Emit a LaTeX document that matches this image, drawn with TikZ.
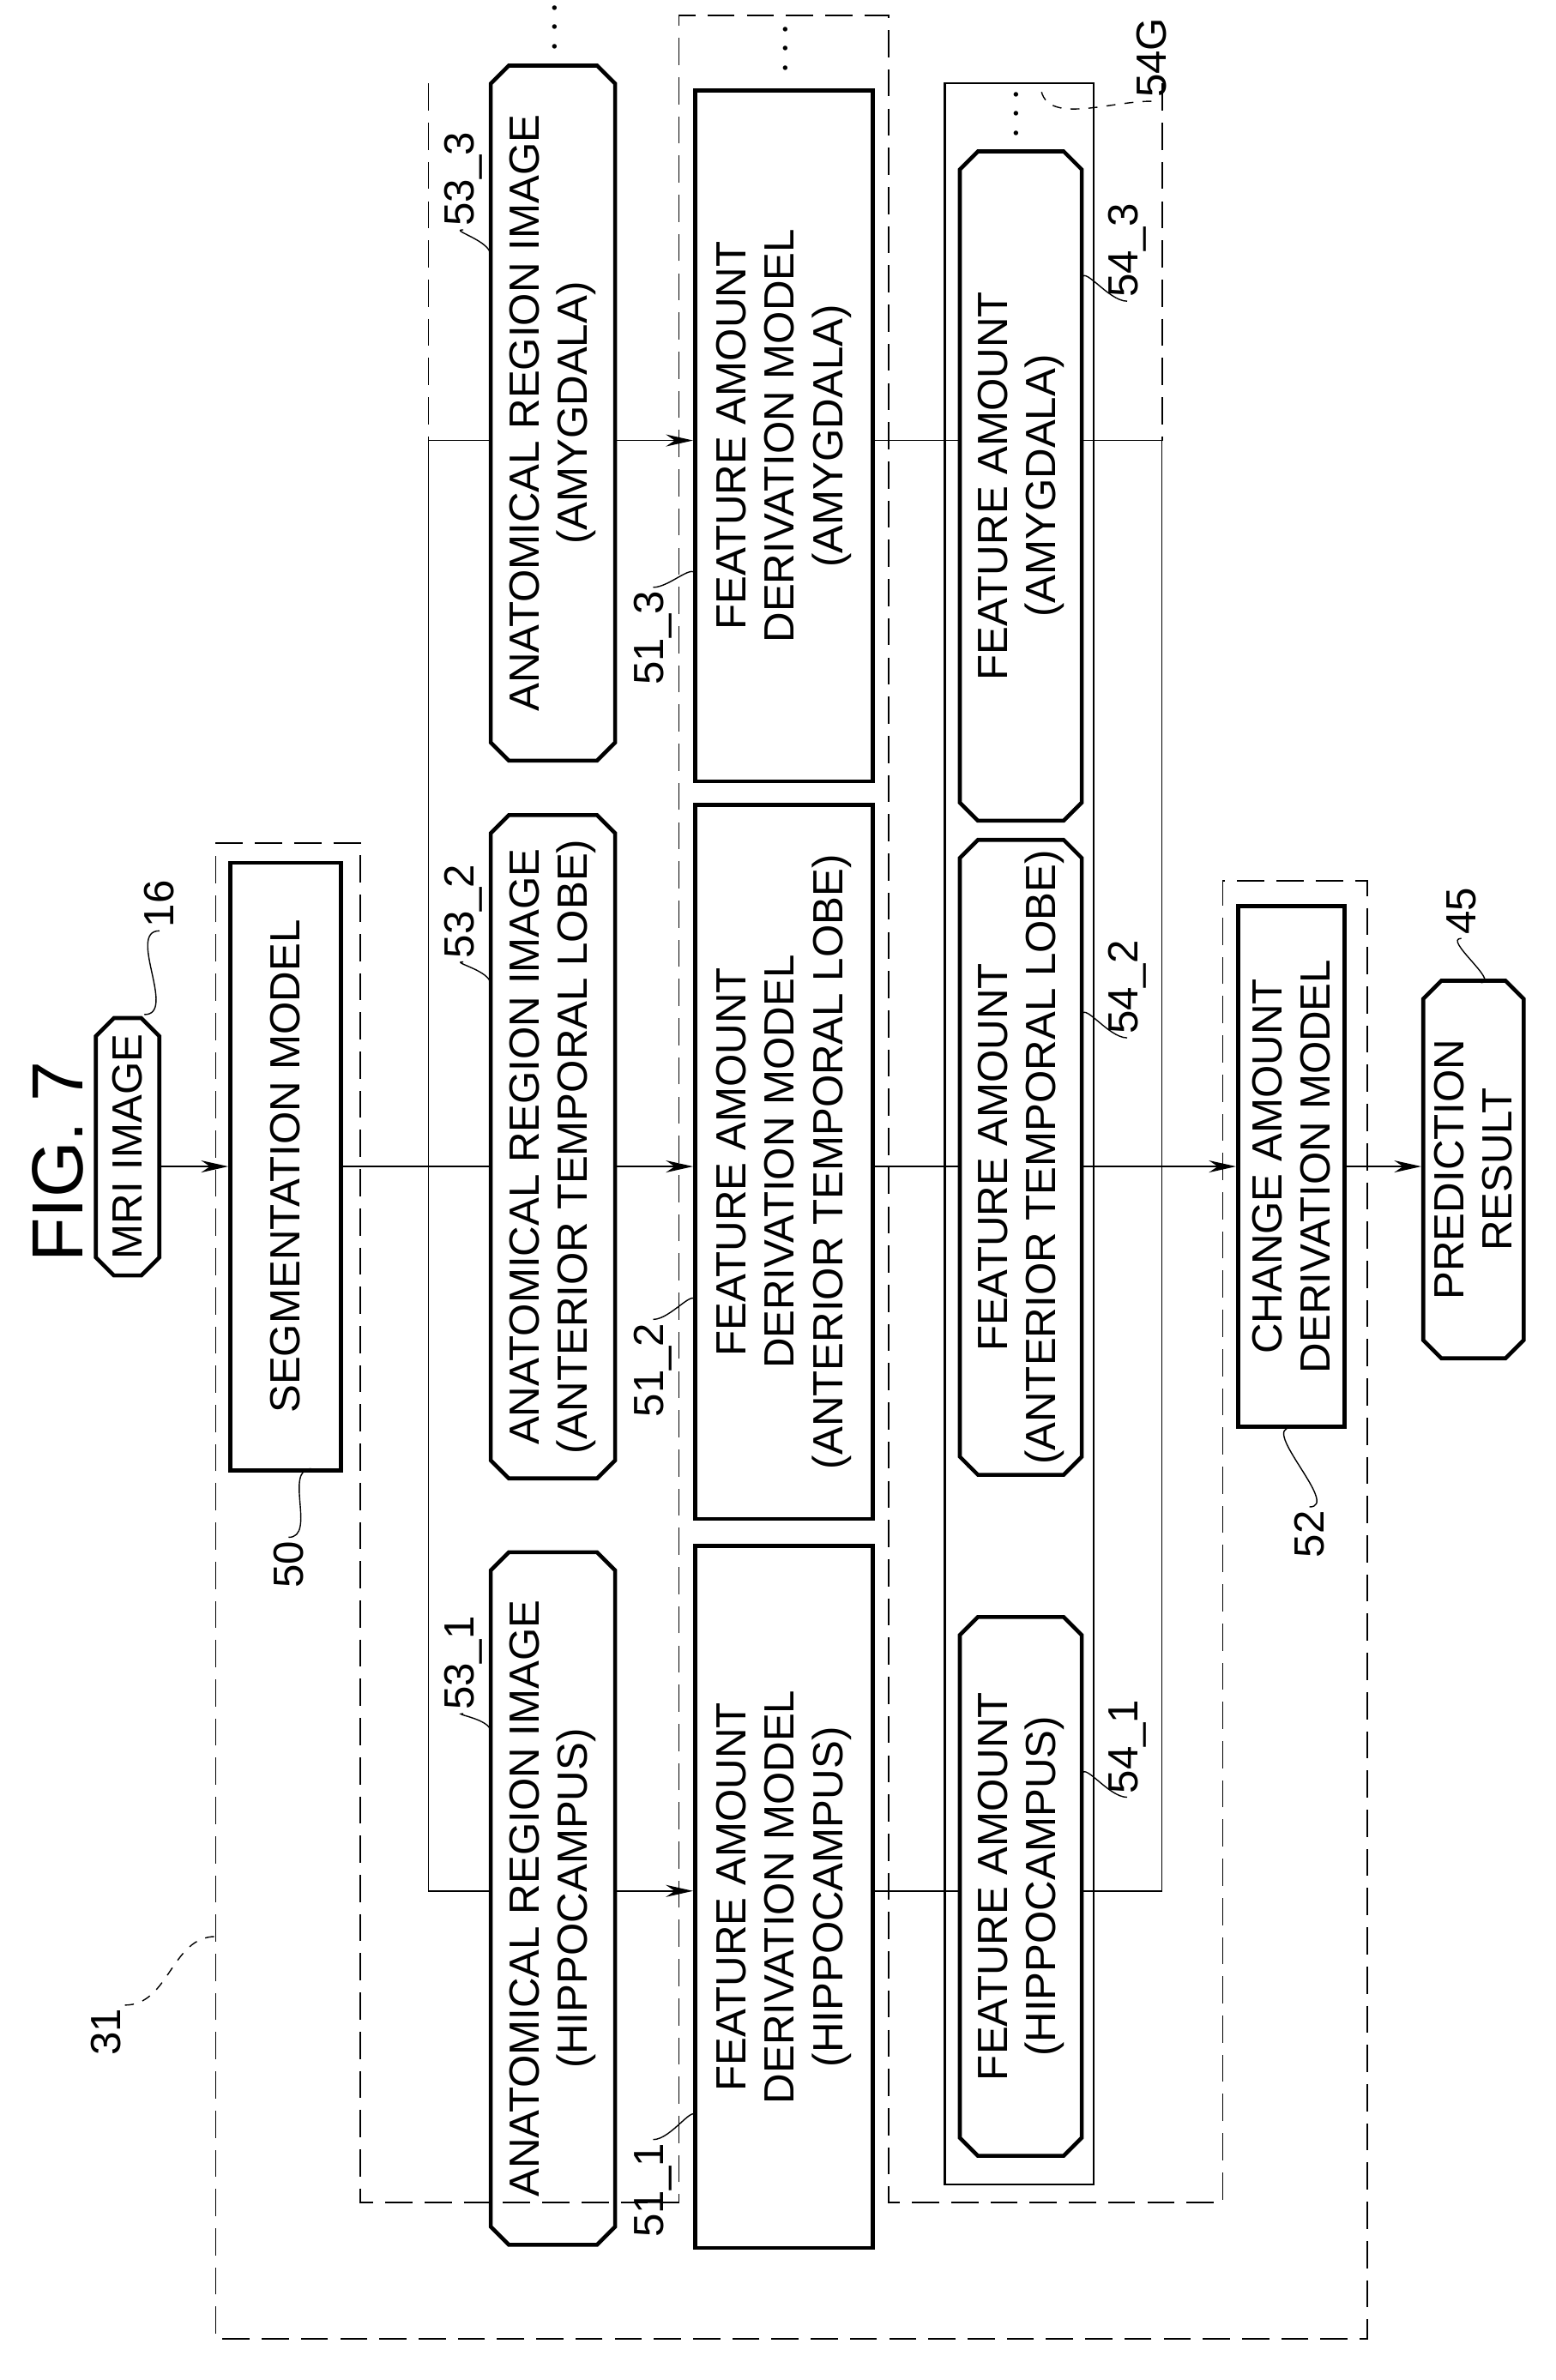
\documentclass[tikz,border=0pt]{standalone}
\usepackage{fontspec}
\setmainfont{Liberation Sans}
\usetikzlibrary{shapes.misc,arrows.meta}
\begin{document}
\begin{tikzpicture}[x=0.0177cm,y=-0.0177cm]
\tikzstyle{Box} = [draw, rotate=90, line width=1.3pt, align=center, inner sep=0, font=\fontsize{14}{16}\selectfont]
\tikzstyle{Cham} = [Box, chamfered rectangle, chamfered rectangle xsep=3pt, chamfered rectangle ysep=3pt, chamfered rectangle angle=45]
\tikzstyle{Lbl} = [rotate=90, font=\fontsize{14}{16}\selectfont, inner sep=1pt]
\tikzstyle{Frame} = [dashed, dash pattern=on 9pt off 4pt, line width=0.5pt]
\tikzstyle{Arr} = [-{Stealth[length=9pt,width=4pt]}]
\useasboundingbox (0,0) rectangle (1024,1567);
\node [rotate=90, font=\fontsize{24}{28}\selectfont] (fig) at (38,765) {FIG. 7};
\node [Cham, minimum width=3.0cm, minimum height=0.74cm] (mri) at (84,755) {MRI IMAGE};
\node [Box, minimum width=7.08cm, minimum height=1.29cm] (seg) at (188,768) {SEGMENTATION MODEL};
% anatomical region images
\node [Cham, minimum width=8.1cm, minimum height=1.45cm] (a3) at (364,272) {ANATOMICAL REGION IMAGE\\(AMYGDALA)};
\node [Cham, minimum width=7.73cm, minimum height=1.45cm] (a2) at (364,755) {ANATOMICAL REGION IMAGE\\(ANTERIOR TEMPORAL LOBE)};
\node [Cham, minimum width=8.07cm, minimum height=1.45cm] (a1) at (364,1250) {ANATOMICAL REGION IMAGE\\(HIPPOCAMPUS)};
% feature amount derivation models
\node [Box, minimum width=8.05cm, minimum height=2.07cm] (f3) at (516,287) {FEATURE AMOUNT\\DERIVATION MODEL\\(AMYGDALA)};
\node [Box, minimum width=8.32cm, minimum height=2.07cm] (f2) at (516,765) {FEATURE AMOUNT\\DERIVATION MODEL\\(ANTERIOR TEMPORAL LOBE)};
\node [Box, minimum width=8.18cm, minimum height=2.07cm] (f1) at (516,1249) {FEATURE AMOUNT\\DERIVATION MODEL\\(HIPPOCAMPUS)};
% feature amounts
\draw [line width=0.6pt] (622,55) rectangle (720,1438);
\node [Cham, minimum width=7.8cm, minimum height=1.42cm] (m3) at (672,320) {FEATURE AMOUNT\\(AMYGDALA)};
\node [Cham, minimum width=7.4cm, minimum height=1.42cm] (m2) at (672,762) {FEATURE AMOUNT\\(ANTERIOR TEMPORAL LOBE)};
\node [Cham, minimum width=6.28cm, minimum height=1.42cm] (m1) at (672,1242) {FEATURE AMOUNT\\(HIPPOCAMPUS)};
\node [Box, minimum width=6.07cm, minimum height=1.24cm] (chg) at (850,768) {CHANGE AMOUNT\\DERIVATION MODEL};
\node [Cham, minimum width=4.4cm, minimum height=1.17cm] (res) at (970,770) {PREDICTION\\RESULT};
% dots
\node [rotate=90, font=\Large] (d1) at (366,18) {$\cdots$};
\node [rotate=90, font=\Large] (d2) at (518,32) {$\cdots$};
\node [rotate=90, font=\Large] (d3) at (670,75) {$\cdots$};
% frame 31
\draw [Frame] (142,555) -- (237,555) -- (237,1450) -- (447,1450) -- (447,10) -- (585,10) -- (585,1450) -- (805,1450) -- (805,580) -- (900,580) -- (900,1540) -- (142,1540) -- cycle;
% buses
\coordinate (s3) at (282,290);
\coordinate (s1) at (282,1245);
\coordinate (t3) at (765,290);
\coordinate (t1) at (765,1245);
\draw [Frame] (282,55) -- (s3);
\draw [Frame] (765,55) -- (t3);
\draw (s3) -- (s1);
\draw (t3) -- (t1);
\draw [Arr] (mri.south |- seg) -- (seg.north);
\draw (seg.south) -- (a2.north |- seg);
\draw [Arr] (a2.south |- seg) -- (f2.north |- seg);
\draw (f2.south |- seg) -- (m2.north |- seg);
\draw [Arr] (m2.south |- seg) -- (chg.north);
\draw [Arr] (chg.south) -- (res.north |- chg);
\draw (s3) -- (a3.north |- s3);
\draw [Arr] (a3.south |- s3) -- (f3.north |- s3);
\draw (f3.south |- s3) -- (m3.north |- s3);
\draw (m3.south |- s3) -- (t3);
\draw (s1) -- (a1.north |- s1);
\draw [Arr] (a1.south |- s1) -- (f1.north |- s1);
\draw (f1.south |- s1) -- (m1.north |- s1);
\draw (m1.south |- s1) -- (t1);
% reference numerals
\node [Lbl] (n31) at (70,1338) {31};
\draw [dashed] (n31.south east) to[out=0,in=180] (142,1275);
\node [Lbl] (n16) at (105,595) {16};
\draw (n16.west) to[out=180,in=0] (95,668);
\node [Lbl] (n50) at (190,1030) {50};
\draw (n50.east) to[out=0,in=180] (205,967);
\node [Lbl] (n531) at (305,1095) {53\_1};
\draw (n531.west) to[out=180,in=90] (323,1140);
\node [Lbl] (n532) at (305,600) {53\_2};
\draw (n532.west) to[out=180,in=90] (323,648);
\node [Lbl] (n533) at (305,118) {53\_3};
\draw (n533.west) to[out=180,in=90] (323,168);
\node [Lbl] (n511) at (430,1442) {51\_1};
\draw (n511.east) to[out=0,in=90] (458,1395);
\node [Lbl] (n512) at (430,902) {51\_2};
\draw (n512.east) to[out=0,in=90] (458,858);
\node [Lbl] (n513) at (430,420) {51\_3};
\draw (n513.east) to[out=0,in=90] (458,380);
\node [Lbl] (n541) at (742,1150) {54\_1};
\draw (n541.west) to[out=180,in=90] (712,1170);
\node [Lbl] (n542) at (742,650) {54\_2};
\draw (n542.west) to[out=180,in=90] (712,670);
\node [Lbl] (n543) at (742,165) {54\_3};
\draw (n543.west) to[out=180,in=90] (712,185);
\node [Lbl] (n54g) at (758,38) {54G};
\draw [dashed] (n54g.west) to[out=180,in=270] (685,55);
\node [Lbl] (n52) at (862,1010) {52};
\draw (n52.east) to[out=0,in=180] (850,940);
\node [Lbl] (n45) at (962,600) {45};
\draw (n45.west) to[out=180,in=0] (975,647);
\end{tikzpicture}
\end{document}
